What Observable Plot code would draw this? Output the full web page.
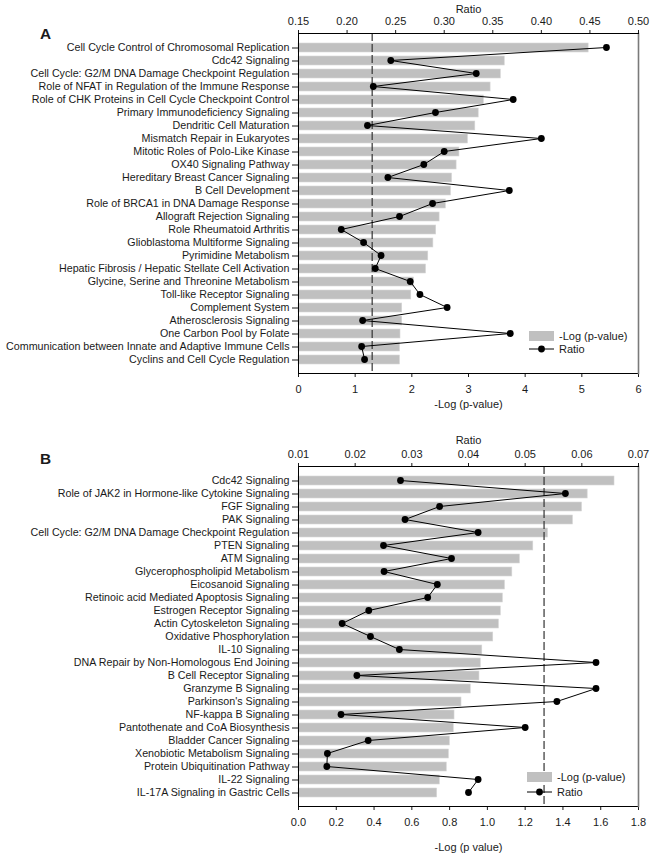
<!DOCTYPE html>
<html><head><meta charset="utf-8">
<script src="https://cdn.jsdelivr.net/npm/d3@7"></script>
<script src="https://cdn.jsdelivr.net/npm/@observablehq/plot@0.6"></script>
<style>
body{margin:0;background:#fff;font-family:"Liberation Sans",Arial,sans-serif;color:#1a1a1a;}
.panel{position:relative;width:651px;overflow:hidden;}
.panel svg{position:absolute;left:0;top:0;}
.letter{position:absolute;left:40px;font-weight:bold;font-size:15.4px;line-height:1;}
.legend{position:absolute;font-size:11px;}
.legend .row{position:absolute;left:0;white-space:nowrap;display:flex;align-items:center;}
.legend .row span{margin-left:5px;}
</style></head><body>
<div id="A" class="panel" style="height:433px"></div>
<div id="B" class="panel" style="height:422px"></div>
<script>
// ---------- Panel A data ----------
const pathwaysA = [
  "Cell Cycle Control of Chromosomal Replication",
  "Cdc42 Signaling",
  "Cell Cycle: G2/M DNA Damage Checkpoint Regulation",
  "Role of NFAT in Regulation of the Immune Response",
  "Role of CHK Proteins in Cell Cycle Checkpoint Control",
  "Primary Immunodeficiency Signaling",
  "Dendritic Cell Maturation",
  "Mismatch Repair in Eukaryotes",
  "Mitotic Roles of Polo-Like Kinase",
  "OX40 Signaling Pathway",
  "Hereditary Breast Cancer Signaling",
  "B Cell Development",
  "Role of BRCA1 in DNA Damage Response",
  "Allograft Rejection Signaling",
  "Role Rheumatoid Arthritis",
  "Glioblastoma Multiforme Signaling",
  "Pyrimidine Metabolism",
  "Hepatic Fibrosis / Hepatic Stellate Cell Activation",
  "Glycine, Serine and Threonine Metabolism",
  "Toll-like Receptor Signaling",
  "Complement System",
  "Atherosclerosis Signaling",
  "One Carbon Pool by Folate",
  "Communication between Innate and Adaptive Immune Cells",
  "Cyclins and Cell Cycle Regulation"
];
const logPA = [5.12, 3.64, 3.57, 3.39, 3.27, 3.18, 3.12, 2.99, 2.84, 2.79, 2.71, 2.69,
  2.60, 2.49, 2.43, 2.38, 2.29, 2.25, 2.04, 1.99, 1.83, 1.83, 1.80, 1.79, 1.79];
const ratioA = [0.467, 0.245, 0.333, 0.227, 0.371, 0.291, 0.221, 0.400, 0.300, 0.279, 0.242, 0.367,
  0.288, 0.254, 0.194, 0.217, 0.235, 0.229, 0.265, 0.275, 0.303, 0.216, 0.368, 0.215, 0.218];
const logTicksA = [0, 1, 2, 3, 4, 5, 6];
const ratioTicksA = [0.15, 0.20, 0.25, 0.30, 0.35, 0.40, 0.45, 0.50];

// ---------- Panel B data ----------
const pathwaysB = [
  "Cdc42 Signaling",
  "Role of JAK2 in Hormone-like Cytokine Signaling",
  "FGF Signaling",
  "PAK Signaling",
  "Cell Cycle: G2/M DNA Damage Checkpoint Regulation",
  "PTEN Signaling",
  "ATM Signaling",
  "Glycerophospholipid Metabolism",
  "Eicosanoid Signaling",
  "Retinoic acid Mediated Apoptosis Signaling",
  "Estrogen Receptor Signaling",
  "Actin Cytoskeleton Signaling",
  "Oxidative Phosphorylation",
  "IL-10 Signaling",
  "DNA Repair by Non-Homologous End Joining",
  "B Cell Receptor Signaling",
  "Granzyme B Signaling",
  "Parkinson's Signaling",
  "NF-kappa B Signaling",
  "Pantothenate and CoA Biosynthesis",
  "Bladder Cancer Signaling",
  "Xenobiotic Metabolism Signaling",
  "Protein Ubiquitination Pathway",
  "IL-22 Signaling",
  "IL-17A Signaling in Gastric Cells"
];
const logPB = [1.673, 1.531, 1.501, 1.453, 1.321, 1.243, 1.172, 1.132, 1.093, 1.082, 1.071, 1.061, 1.031,
  0.973, 0.965, 0.958, 0.912, 0.863, 0.826, 0.822, 0.801, 0.796, 0.785, 0.748, 0.734];
const ratioB = [0.0280, 0.0571, 0.0349, 0.0288, 0.0417, 0.0250, 0.0370, 0.0251, 0.0345, 0.0328, 0.0224, 0.0177, 0.0227,
  0.0278, 0.0625, 0.0203, 0.0625, 0.0556, 0.0175, 0.0500, 0.0223, 0.0151, 0.0150, 0.0417, 0.0400];
const logTicksB = [0, 0.2, 0.4, 0.6, 0.8, 1.0, 1.2, 1.4, 1.6, 1.8];
const ratioTicksB = [0.01, 0.02, 0.03, 0.04, 0.05, 0.06, 0.07];

const threshold = 1.3;

function drawPanel(el, cfg) {
  const data = cfg.cats.map((c, i) => ({c, v: cfg.logp[i], r: cfg.ratio[i]}));
  const common = {
    width: 651, height: cfg.height, marginTop: 33, marginBottom: cfg.height - 373,
    marginLeft: 298, marginRight: 13,
    style: {fontFamily: '"Liberation Sans", Arial, sans-serif', fontSize: "10.7px", color: "#1a1a1a", background: "transparent", overflow: "visible"}
  };
  const base = Plot.plot({
    ...common,
    x: {domain: cfg.xDomain},
    y: {domain: cfg.cats, paddingInner: 0.335, paddingOuter: 0.667},
    marks: [
      Plot.barX(data, {x: "v", y: "c", fill: "#c0c0c0", stroke: "#d6d6d6", strokeWidth: 0.6}),
      Plot.ruleX([threshold], {stroke: "#333", strokeWidth: 1.2, strokeDasharray: "8,3"}),
      Plot.axisY({tickSize: 6, tickPadding: 3, label: null, fontSize: "10.7px"}),
      Plot.axisX({anchor: "bottom", ticks: cfg.xTicks, tickFormat: cfg.xFormat, tickSize: 4, tickPadding: 8,
        label: cfg.xLabel, labelAnchor: "center", labelArrow: "none", labelOffset: cfg.xLabelOffset, fontSize: "11px"}),
      Plot.frame({anchor: "left", stroke: "#000"}),
      Plot.frame({anchor: "bottom", stroke: "#000"}),
      Plot.frame({anchor: "right", stroke: "#7a7a7a", strokeWidth: 1.6})
    ]
  });
  const over = Plot.plot({
    ...common,
    x: {domain: cfg.rDomain},
    y: {type: "point", domain: cfg.cats, padding: 1, axis: null},
    marks: [
      Plot.lineY(data, {x: "r", y: "c", stroke: "#000", strokeWidth: 1}),
      Plot.dot(data, {x: "r", y: "c", r: 3.4, fill: "#000", stroke: "none"}),
      Plot.axisX({anchor: "top", ticks: cfg.rTicks, tickFormat: d3.format(".2f"), tickSize: 4, tickPadding: 5,
        label: "Ratio", labelAnchor: "center", labelArrow: "none", labelOffset: cfg.rLabelOffset, fontSize: "11px"}),
      Plot.frame({anchor: "top", stroke: "#000"})
    ]
  });
  el.appendChild(base);
  el.appendChild(over);

  const letter = document.createElement("div");
  letter.className = "letter";
  letter.style.top = cfg.letterTop + "px";
  letter.textContent = cfg.letter;
  el.appendChild(letter);

  const lg = document.createElement("div");
  lg.className = "legend";
  lg.style.left = cfg.legendX + "px";
  lg.style.top = cfg.legendY + "px";
  lg.innerHTML =
    `<div class="row" style="top:-6px"><svg width="25" height="12" style="position:static"><rect x="0" y="1" width="25" height="10" fill="#c0c0c0"/></svg><span>-Log (p-value)</span></div>` +
    `<div class="row" style="top:${cfg.legendGap - 6}px"><svg width="25" height="12" style="position:static"><line x1="0" x2="25" y1="6" y2="6" stroke="#000" stroke-width="1"/><circle cx="12.5" cy="6" r="3.4" fill="#000"/></svg><span>Ratio</span></div>`;
  el.appendChild(lg);
}

drawPanel(document.getElementById("A"), {
  cats: pathwaysA, logp: logPA, ratio: ratioA, height: 433,
  xDomain: [0, 6], xTicks: logTicksA, xFormat: d3.format("d"), xLabel: "-Log (p-value)", xLabelOffset: 34,
  rDomain: [0.15, 0.50], rTicks: ratioTicksA, rLabelOffset: 28,
  letter: "A", letterTop: 26, legendX: 529, legendY: 336, legendGap: 13.3
});
drawPanel(document.getElementById("B"), {
  cats: pathwaysB, logp: logPB, ratio: ratioB, height: 422,
  xDomain: [0, 1.8], xTicks: logTicksB, xFormat: d3.format(".1f"), xLabel: "-Log (p value)", xLabelOffset: 44,
  rDomain: [0.01, 0.07], rTicks: ratioTicksB, rLabelOffset: 30,
  letter: "B", letterTop: 18, legendX: 527, legendY: 344, legendGap: 14.6
});
</script>
</body></html>
